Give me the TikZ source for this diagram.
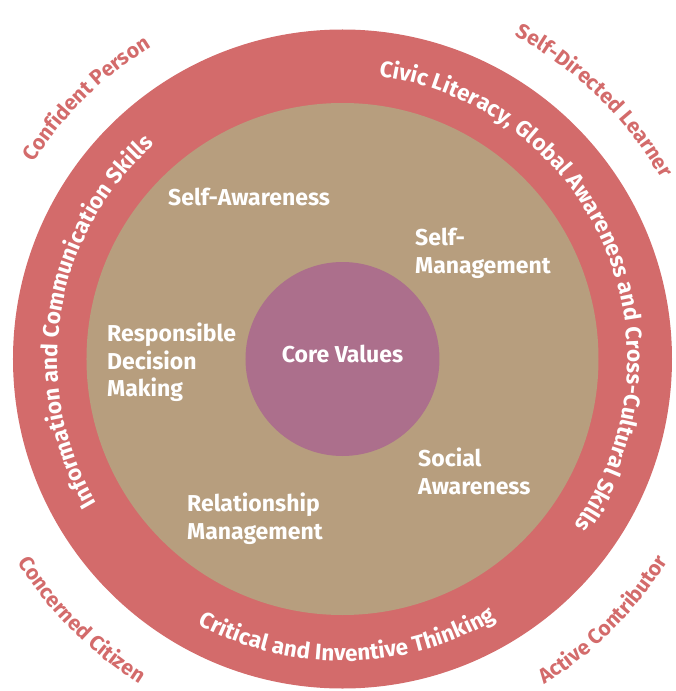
\documentclass[tikz,border=0pt]{standalone}
\usepackage{fontspec}
\setmainfont{Fira Sans}
\usetikzlibrary{decorations.text}
\definecolor{ringred}{RGB}{211,107,107}
\definecolor{tan}{RGB}{183,158,126}
\definecolor{corepurple}{RGB}{172,111,140}
\newcommand\ringfmt{\fontsize{22.5}{24}\selectfont\bfseries\color{white}}
\newcommand\outfmt{\fontsize{21}{24}\selectfont\bfseries\color{ringred}}
\tikzset{
  disc/.style={circle, inner sep=0pt, draw=none},
  lbl/.style={anchor=north west, inner sep=0pt, align=left, text=white,
    font=\fontsize{23}{27.5}\selectfont\bfseries},
  curved/.style={decorate, decoration={text along path, text align=center, text={#1}}}
}
\begin{document}
\begin{tikzpicture}[x=1pt,y=1pt]
\useasboundingbox (-342.5,-332) rectangle (332.5,359);
\coordinate (O) at (0,0);
\node[disc, fill=ringred, minimum size=659pt] (outer) at (O) {};
\node[disc, fill=tan, minimum size=512pt] (middle) at (O) {};
\node[disc, fill=corepurple, minimum size=194pt] (core) at (O) {};
% ring texts (clockwise, tops outward)
\path[curved={|\ringfmt|Information and Communication Skills}] (O) ++(260.8:285pt) arc[start angle=260.8, end angle=80.8, radius=285pt];
\path[curved={|\ringfmt|Civic Literacy{,} Global Awareness and Cross-Cultural Skills}] (O) ++(113.5:285pt) arc[start angle=113.5, end angle=-66.5, radius=285pt];
% bottom ring text (counter-clockwise)
\path[curved={|\ringfmt|Critical and Inventive Thinking}] (O) ++(181:302pt) arc[start angle=181, end angle=361, radius=302pt];
% outer labels
\path[curved={|\outfmt|Confident Person}] (O) ++(224.5:366pt) arc[start angle=224.5, end angle=44.5, radius=366pt];
\path[curved={|\outfmt|Self-Directed Learner}] (O) ++(135.7:366pt) arc[start angle=135.7, end angle=-44.3, radius=366pt];
\path[curved={|\outfmt|Concerned Citizen}] (O) ++(135:383pt) arc[start angle=135, end angle=315, radius=383pt];
\path[curved={|\outfmt|Active Contributor}] (O) ++(225:383pt) arc[start angle=225, end angle=405, radius=383pt];
% inner labels
\node[lbl] (sa) at (-174.5,171) {Self-Awareness};
\node[lbl] (sm) at (72.5,131) {Self-\\Management};
\node[lbl] (rdm) at (-235.5,36) {Responsible\\Decision\\Making};
\node[lbl] (soc) at (75.5,-89) {Social\\Awareness};
\node[lbl] (rm) at (-155.5,-134) {Relationship\\Management};
\node[anchor=base, inner sep=0pt, text=white, font=\fontsize{23}{24}\selectfont\bfseries] (cv) at (0,-3) {Core Values};
\end{tikzpicture}
\end{document}
